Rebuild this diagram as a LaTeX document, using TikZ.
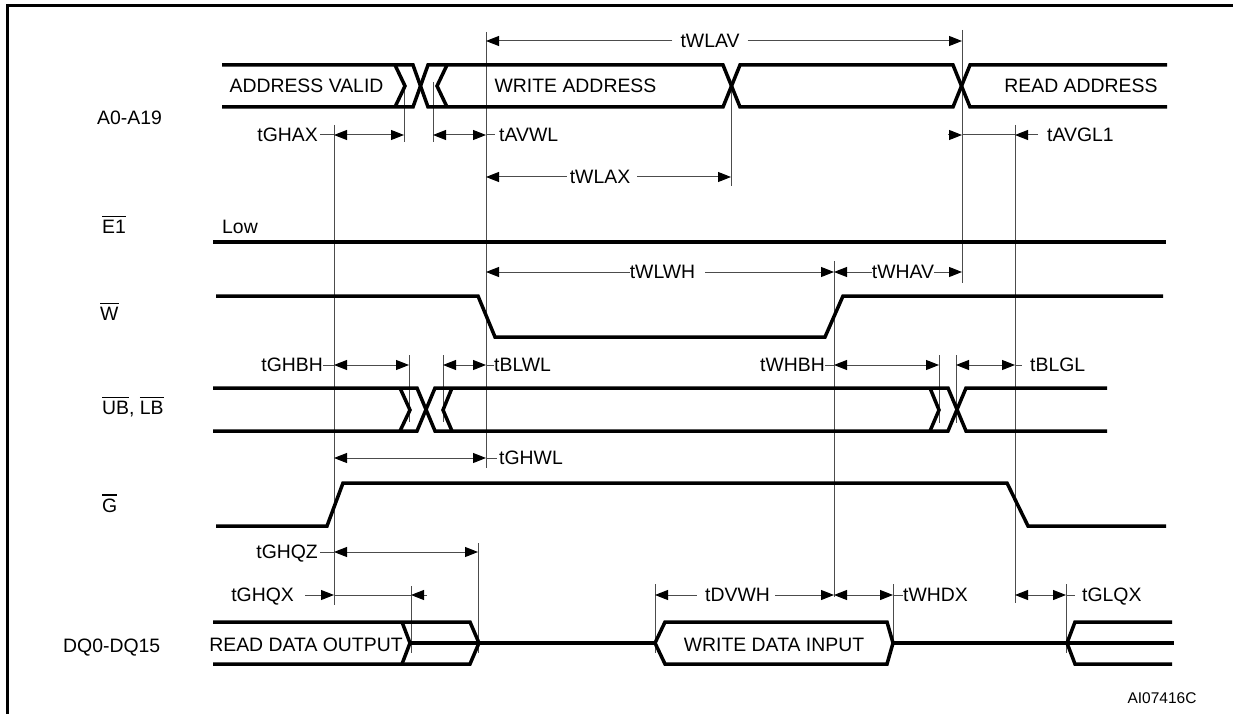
\documentclass[tikz,border=0pt]{standalone}
\usepackage{fontspec}
\setmainfont{Liberation Sans}
\usetikzlibrary{arrows.meta}

% bar over an active-low signal name
\newcommand{\ovl}[1]{\leavevmode\vbox{\hrule height 1.5pt\kern 3.5pt\hbox{#1}}}

\tikzset{
    sig/.style={line width=3.5pt},
    guide/.style={line width=1pt, black!70},
    tip/.style={line width=1pt, black!70, -{Triangle[length=13pt,width=10pt,color=black]}},
    dim/.style={line width=1pt, black!70, {Triangle[length=13pt,width=10pt,color=black]}-{Triangle[length=13pt,width=10pt,color=black]}},
    lbl/.style={inner sep=0pt, text height=13.9pt, text depth=0pt, font=\fontsize{19.4}{23}\selectfont},
}

\begin{document}
\begin{tikzpicture}[x=1pt, y=-1pt]

        \useasboundingbox (0,0) rectangle (1233,714);

        % Frame
        \draw[line width=2.5pt] (7.7,714) -- (7.7,5.3) -- (1233,5.3);

        % Define the timing columns
        \coordinate (gh)   at (334,0);  % G goes high
        \coordinate (ave)  at (404,0);
        \coordinate (bhe)  at (409,0);
        \coordinate (qx)   at (411,0);
        \coordinate (was)  at (433,0);
        \coordinate (bls)  at (443,0);
        \coordinate (qz)   at (478,0);
        \coordinate (wl)   at (486,0);  % W goes low
        \coordinate (dv)   at (655,0);
        \coordinate (wa)   at (731,0);
        \coordinate (wh)   at (834,0);  % W goes high
        \coordinate (dx)   at (893,0);
        \coordinate (bhe2) at (939,0);
        \coordinate (bls2) at (956,0);
        \coordinate (ra)   at (962,0);
        \coordinate (gl)   at (1015,0); % G goes low
        \coordinate (lq)   at (1066,0);

        % Signal names
        \node[lbl, anchor=west] (addr) at (97,118) {A0-A19};
        \node[lbl, anchor=west] (e1)   at (102,227) {\ovl{E1}};
        \node[lbl, anchor=west] (w)    at (100,314) {\ovl{W}};
        \node[lbl, anchor=west] (ublb) at (102,408) {\ovl{UB}, \ovl{LB}};
        \node[lbl, anchor=west] (g)    at (102,506) {\ovl{G}};
        \node[lbl, anchor=west] (dq)   at (63,646) {DQ0-DQ15};

        % Guide lines
        \draw[guide] (wl |- 0,32) -- (wl |- 0,468);
        \draw[guide] (ra |- 0,30) -- (ra |- 0,283);
        \draw[guide] (wa |- 0,86) -- (wa |- 0,186);
        \draw[guide] (ave |- 0,83) -- (ave |- 0,142);
        \draw[guide] (was |- 0,82) -- (was |- 0,142);
        \draw[guide] (gh |- 0,125) -- (gh |- 0,605);
        \draw[guide] (gl |- 0,125) -- (gl |- 0,603);
        \draw[guide] (wh |- 0,261) -- (wh |- 0,597);
        \draw[guide] (bhe |- 0,355) -- (bhe |- 0,422);
        \draw[guide] (bls |- 0,355) -- (bls |- 0,422);
        \draw[guide] (bhe2 |- 0,355) -- (bhe2 |- 0,423);
        \draw[guide] (bls2 |- 0,355) -- (bls2 |- 0,423);
        \draw[guide] (qz |- 0,543) -- (qz |- 0,653);
        \draw[guide] (qx |- 0,586) -- (qx |- 0,653);
        \draw[guide] (dv |- 0,584) -- (dv |- 0,653);
        \draw[guide] (dx |- 0,584) -- (dx |- 0,643);
        \draw[guide] (lq |- 0,584) -- (lq |- 0,653);

        % A0-A19
        \draw[sig] (222,65) -- (413,65) -- (428,107) -- (723,107) -- (740,65) -- (953,65) -- (970,107) -- (1167,107);
        \draw[sig] (222,107) -- (413,107) -- (428,65) -- (723,65) -- (740,107) -- (953,107) -- (970,65) -- (1167,65);
        \draw[sig] (395,65) -- (405,86) -- (395,107);
        \draw[sig] (447,65) -- (437,86) -- (447,107);
        \node[lbl] (av)  at (306.5,86) {ADDRESS VALID};
        \node[lbl] (wad) at (575.5,86) {WRITE ADDRESS};
        \node[lbl] (rad) at (1081,86) {READ ADDRESS};

        % E1
        \draw[sig] (213,242) -- (1166,242);
        \node[lbl, anchor=west] (low) at (222,227) {Low};

        % W
        \draw[sig] (216,296) -- (478,296) -- (495,337) -- (825,337) -- (843,296) -- (1163,296);

        % UB, LB
        \draw[sig] (213,388) -- (417,388) -- (435,431) -- (948,431) -- (966,388) -- (1107,388);
        \draw[sig] (213,431) -- (417,431) -- (435,388) -- (948,388) -- (966,431) -- (1107,431);
        \draw[sig] (400,388) -- (410,410) -- (400,431);
        \draw[sig] (452,388) -- (443,410) -- (452,431);
        \draw[sig] (930,388) -- (939,410) -- (930,431);

        % G
        \draw[sig] (216,526) -- (327,526) -- (343,483) -- (1007,483) -- (1028,526) -- (1166,526);

        % DQ0-DQ15
        \draw[sig] (213,622) -- (470,622) -- (479,643) -- (470,664) -- (213,664);
        \draw[sig] (402,622) -- (410,643) -- (402,664);
        \draw[sig] (410,643) -- (655,643);
        \draw[sig] (655,643) -- (665,622) -- (887,622) -- (893,643) -- (887,664) -- (665,664) -- cycle;
        \draw[sig] (893,643) -- (1174,643);
        \draw[sig] (1172,622) -- (1075,622) -- (1067,643) -- (1075,664) -- (1172,664);
        \node[lbl] (rdo) at (306,645) {READ DATA OUTPUT};
        \node[lbl] (wdi) at (774,645) {WRITE DATA INPUT};

        % Timings on A0-A19
        \node[lbl] (tWLAV) at (710,41) {tWLAV};
        \draw[tip, shorten <=8pt] (tWLAV.west) -- (wl |- tWLAV);
        \draw[tip, shorten <=8pt] (tWLAV.east) -- (ra |- tWLAV);

        \node[lbl, anchor=east] (tGHAX) at (318,135) {tGHAX};
        \draw[guide, shorten <=2pt] (tGHAX.east) -- (gh |- tGHAX);
        \draw[dim] (gh |- tGHAX) -- (ave |- tGHAX);

        \node[lbl, anchor=west] (tAVWL) at (499,135) {tAVWL};
        \draw[dim] (was |- tAVWL) -- (wl |- tAVWL);
        \draw[guide, shorten >=4pt] (wl |- tAVWL) -- (tAVWL.west);

        \node[lbl] (tWLAX) at (600,177) {tWLAX};
        \draw[tip, shorten <=3pt] (tWLAX.west) -- (wl |- tWLAX);
        \draw[tip, shorten <=7pt] (tWLAX.east) -- (wa |- tWLAX);

        \node[lbl, anchor=west] (tAVGL1) at (1047,135) {tAVGL1};
        \draw[tip] (ra |- tAVGL1) ++(-14,0) -- (ra |- tAVGL1);
        \draw[guide] (ra |- tAVGL1) -- (gl |- tAVGL1);
        \draw[tip, shorten <=9pt] (tAVGL1.west) -- (gl |- tAVGL1);

        % Timings on W
        \node[lbl] (tWLWH) at (662.5,272) {tWLWH};
        \draw[tip] (tWLWH.west) -- (wl |- tWLWH);
        \draw[tip, shorten <=10pt] (tWLWH.east) -- (wh |- tWLWH);

        \node[lbl] (tWHAV) at (903,272) {tWHAV};
        \draw[tip] (tWHAV.west) -- (wh |- tWHAV);
        \draw[tip] (tWHAV.east) -- (ra |- tWHAV);

        % Timings on UB, LB
        \node[lbl, anchor=east] (tGHBH) at (323,365) {tGHBH};
        \draw[guide] (tGHBH.east) -- (gh |- tGHBH);
        \draw[dim] (gh |- tGHBH) -- (bhe |- tGHBH);

        \node[lbl, anchor=west] (tBLWL) at (494,365) {tBLWL};
        \draw[dim] (bls |- tBLWL) -- (wl |- tBLWL);
        \draw[guide] (wl |- tBLWL) -- (tBLWL.west);

        \node[lbl, anchor=east] (tWHBH) at (825,365) {tWHBH};
        \draw[guide] (tWHBH.east) -- (wh |- tWHBH);
        \draw[dim] (wh |- tWHBH) -- (bhe2 |- tWHBH);

        \node[lbl, anchor=west] (tBLGL) at (1030,365) {tBLGL};
        \draw[dim] (bls2 |- tBLGL) -- (gl |- tBLGL);
        \draw[guide, shorten >=8pt] (gl |- tBLGL) -- (tBLGL.west);

        \node[lbl, anchor=west] (tGHWL) at (499,458) {tGHWL};
        \draw[dim] (gh |- tGHWL) -- (wl |- tGHWL);
        \draw[guide, shorten >=2pt] (wl |- tGHWL) -- (tGHWL.west);

        % Timings on DQ0-DQ15
        \node[lbl, anchor=east] (tGHQZ) at (318,552) {tGHQZ};
        \draw[guide, shorten <=2pt] (tGHQZ.east) -- (gh |- tGHQZ);
        \draw[dim] (gh |- tGHQZ) -- (qz |- tGHQZ);

        \node[lbl, anchor=east] (tGHQX) at (294,595) {tGHQX};
        \draw[tip, shorten <=11pt] (tGHQX.east) -- (gh |- tGHQX);
        \draw[guide] (gh |- tGHQX) -- (qx |- tGHQX);
        \draw[tip] (qx |- tGHQX) ++(16,0) -- (qx |- tGHQX);

        \node[lbl] (tDVWH) at (737.5,595) {tDVWH};
        \draw[tip, shorten <=8pt] (tDVWH.west) -- (dv |- tDVWH);
        \draw[tip, shorten <=5pt] (tDVWH.east) -- (wh |- tDVWH);

        \node[lbl, anchor=west] (tWHDX) at (903,595) {tWHDX};
        \draw[dim] (wh |- tWHDX) -- (dx |- tWHDX);
        \draw[guide] (dx |- tWHDX) -- (tWHDX.west);

        \node[lbl, anchor=west] (tGLQX) at (1082,595) {tGLQX};
        \draw[dim] (gl |- tGLQX) -- (lq |- tGLQX);
        \draw[guide, shorten >=7pt] (lq |- tGLQX) -- (tGLQX.west);

        % Drawing reference
        \node[lbl, font=\fontsize{15.5}{18}\selectfont, text height=11.1pt] (ref) at (1162,698) {AI07416C};

    \end{tikzpicture}
\end{document}
